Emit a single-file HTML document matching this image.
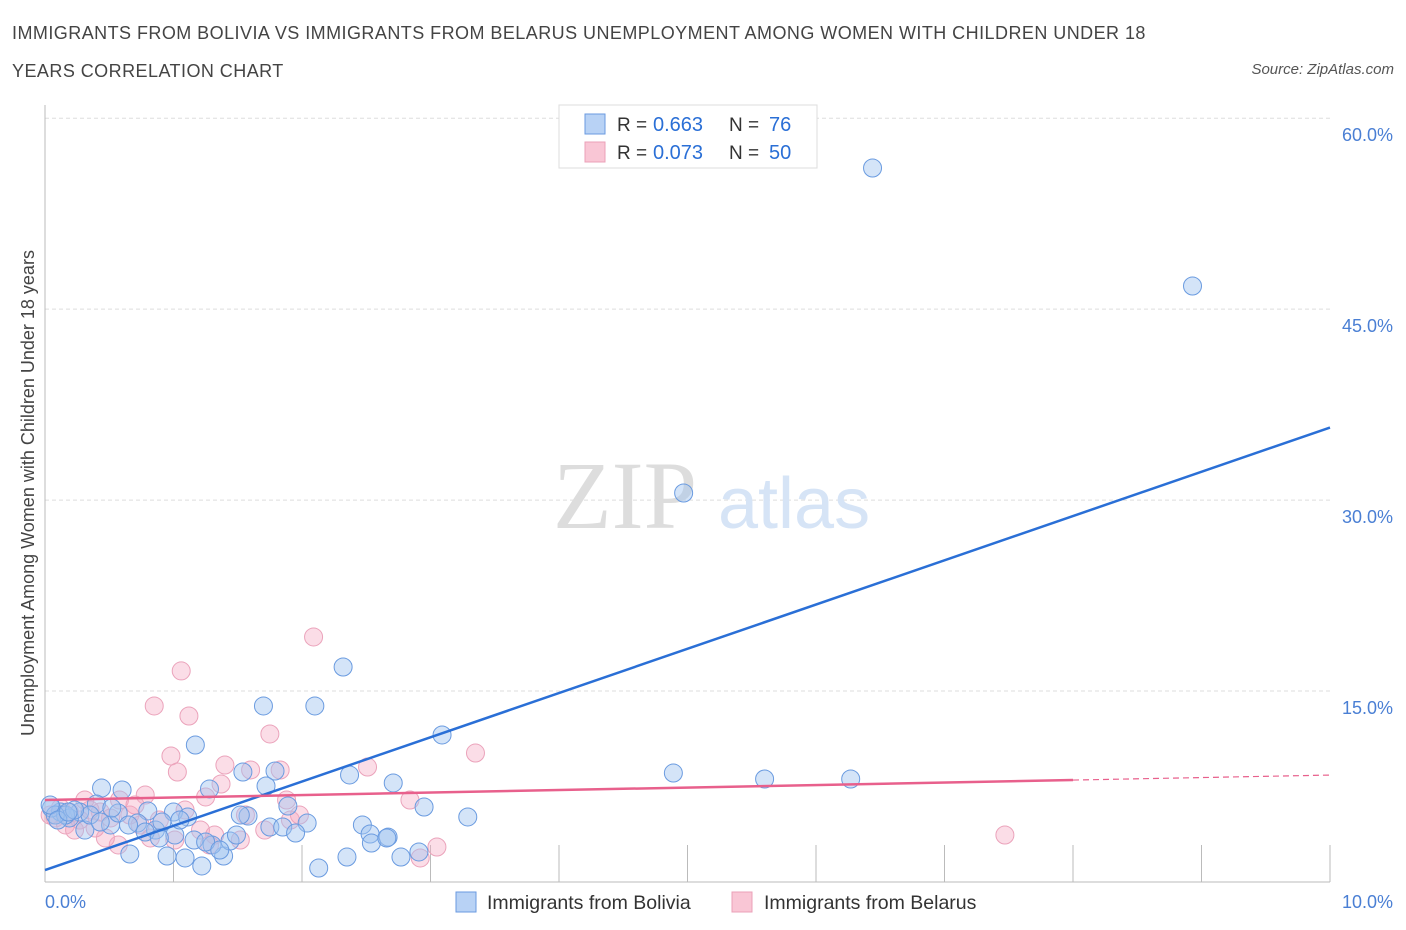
<!DOCTYPE html>
<html><head><meta charset="utf-8"><style>
body{margin:0;background:#fff;font-family:"Liberation Sans",sans-serif;}
#wrap{position:relative;width:1406px;height:930px;overflow:hidden;}
.t{position:absolute;white-space:nowrap;}
</style></head><body>
<div id="wrap">
<div class="t" style="left:12px;top:14px;font-size:18px;color:#444;line-height:38px;letter-spacing:0.45px">IMMIGRANTS FROM BOLIVIA VS IMMIGRANTS FROM BELARUS UNEMPLOYMENT AMONG WOMEN WITH CHILDREN UNDER 18<br>YEARS CORRELATION CHART</div>
<div class="t" style="right:12px;top:61px;font-size:15px;color:#555;font-style:italic">Source: ZipAtlas.com</div>
<svg id="svg" width="1406" height="930" style="position:absolute;left:0;top:0"></svg>
</div>
<script>
const xTickLabels=["0.0%","10.0%"];
const yTicks=[15,30,45,60];
const yTickLabels=["15.0%","30.0%","45.0%","60.0%"];
const legendR=["0.663","0.073"];
const legendN=["76","50"];
const seriesNames=["Immigrants from Bolivia","Immigrants from Belarus"];
const boliviaX=[6.44,8.93,4.97,2.32,1.70,2.10,1.17,3.09,4.89,5.60,6.27,0.44,0.60,1.54,1.79,1.72,1.28,2.37,2.71,2.95,3.29,0.80,1.00,1.11,1.58,1.89,2.04,1.75,1.85,1.95,2.47,2.53,2.67,2.54,2.66,0.66,0.95,1.09,1.22,1.39,1.30,1.44,1.49,2.13,2.35,2.77,2.91,0.40,0.27,0.12,0.05,0.19,0.31,0.51,0.72,0.86,1.01,1.16,0.16,0.08,0.35,0.43,0.57,0.65,0.78,0.91,1.05,1.25,1.36,1.52,0.04,0.23,0.10,0.18,0.52,0.89];
const boliviaY=[56.09,46.82,30.56,16.89,13.83,13.83,10.76,11.55,8.56,8.09,8.09,7.38,7.23,8.64,8.72,7.54,7.31,8.41,7.78,5.89,5.11,5.58,5.50,5.11,5.18,5.97,4.63,4.32,4.32,3.85,4.48,3.77,3.53,3.06,3.46,2.20,2.04,1.89,1.26,2.04,2.91,3.22,3.69,1.10,1.96,1.96,2.36,6.13,5.50,5.50,5.81,5.03,4.08,4.48,4.63,4.08,3.69,3.30,5.26,5.26,5.26,4.71,5.42,4.48,3.93,4.71,4.87,3.14,2.51,5.26,6.05,5.66,4.87,5.50,5.81,3.46];
const belarusX=[2.09,1.06,0.85,1.12,1.75,0.98,1.03,1.40,1.37,1.60,1.83,2.51,3.35,1.25,1.88,2.84,7.47,3.05,2.92,0.78,0.58,0.43,0.66,0.89,1.21,1.32,1.56,1.71,1.91,0.12,0.19,0.08,0.27,0.35,0.51,0.74,0.82,1.01,0.57,0.47,0.16,0.04,0.31,0.39,0.70,1.09,1.28,1.52,1.98,0.23];
const belarusY=[19.25,16.58,13.83,13.04,11.63,9.90,8.64,9.19,7.70,8.80,8.80,9.03,10.13,6.68,6.44,6.44,3.69,2.75,1.89,6.83,6.44,5.50,5.26,4.87,4.08,3.69,5.26,4.08,4.87,5.81,5.50,5.03,4.87,5.66,5.03,4.48,3.46,3.30,2.91,3.46,4.48,5.26,6.44,4.24,6.05,5.66,2.91,3.30,5.26,4.08];
const boliviaTrend=[0.94,35.7];
const belarusTrend=[6.44,8.4];
const belarusSolidEnd=8.0;

const NS="http://www.w3.org/2000/svg";
const svg=document.getElementById('svg');
const X=v=>45+v*128.5;
const Y=v=>882-v*12.73;
function el(tag,attrs,parent){const e=document.createElementNS(NS,tag);for(const k in attrs)e.setAttribute(k,attrs[k]);(parent||svg).appendChild(e);return e;}
function txt(s,attrs,parent){const e=el('text',attrs,parent);e.textContent=s;return e;}

yTicks.forEach((v,i)=>{
 const g=el('line',{x1:45,x2:1330,y1:Y(v),y2:Y(v),stroke:'#ddd','stroke-dasharray':'4,3'});
 
 
 const t=txt(yTickLabels[i],{x:1393,y:Y(v)+23,'text-anchor':'end','font-size':18,fill:'#4a7fd4'});
 
 
});
const ax=el('line',{x1:45,x2:45,y1:105,y2:882,stroke:'#bbb'});


const bx=el('line',{x1:45,x2:1330,y1:882,y2:882,stroke:'#bbb'});


for(let i=1;i<=10;i++){
 const tk=el('line',{x1:X(i),x2:X(i),y1:845,y2:882,stroke:'#bbb'});
 
 
}
let t0=txt(xTickLabels[0],{x:45,y:908,'font-size':18,fill:'#4a7fd4'});


let t1=txt(xTickLabels[1],{x:1393,y:908,'text-anchor':'end','font-size':18,fill:'#4a7fd4'});


let yt=txt('Unemployment Among Women with Children Under 18 years',{x:0,y:0,'font-size':18,fill:'#444','text-anchor':'middle',transform:'translate(34,493) rotate(-90)'});


let w1=txt('ZIP',{x:553,y:528,'font-size':96,fill:'#ddd','font-family':'Liberation Serif'});


let w2=txt('atlas',{x:718,y:528,'font-size':72,fill:'#d6e4f6'});



function dots(xs,ys,fill,stroke,name){
 xs.forEach((x,i)=>{
  const c=el('circle',{cx:X(x),cy:Y(ys[i]),r:9,fill:fill,stroke:stroke,'stroke-width':1});
  
  
 });
}
dots(belarusX,belarusY,'rgba(245,170,195,0.4)','#eba3bb','belarus-point');
dots(boliviaX,boliviaY,'rgba(160,196,240,0.45)','#6a9be0','bolivia-point');

const bl=el('line',{x1:X(0),y1:Y(boliviaTrend[0]),x2:X(10),y2:Y(boliviaTrend[1]),stroke:'#2a6fd6','stroke-width':2.5});


const py=v=>belarusTrend[0]+(belarusTrend[1]-belarusTrend[0])*v/10;
const pl=el('line',{x1:X(0),y1:Y(py(0)),x2:X(belarusSolidEnd),y2:Y(py(belarusSolidEnd)),stroke:'#e8608c','stroke-width':2.5});


const pd=el('line',{x1:X(belarusSolidEnd),y1:Y(py(belarusSolidEnd)),x2:X(10),y2:Y(py(10)),stroke:'#e8608c','stroke-width':1.2,'stroke-dasharray':'6,4'});



const lg=el('rect',{x:559,y:105,width:258,height:63,fill:'#fff',stroke:'#ddd'});


const cols=[['#b8d2f5','#6a9ae0'],['#f9c6d5','#eba0b8']];
[0,1].forEach(i=>{
 const y=114+i*28;
 const s=el('rect',{x:585,y:y,width:20,height:20,fill:cols[i][0],stroke:cols[i][1]});
 
 
 const a=txt('R =',{x:617,y:y+17,'font-size':19,fill:'#333'});
 
 
 const b=txt(legendR[i],{x:653,y:y+17,'font-size':20,fill:'#2a6fd6'});
 
 
 const c=txt('N =',{x:729,y:y+17,'font-size':19,fill:'#333'});
 
 
 const d=txt(legendN[i],{x:769,y:y+17,'font-size':20,fill:'#2a6fd6'});
 
 
 const bs=el('rect',{x:[456,732][i],y:892,width:20,height:20,fill:cols[i][0],stroke:cols[i][1]});
 
 
 const bt=txt(seriesNames[i],{x:[487,764][i],y:909,'font-size':19.5,fill:'#333'});
 
 
});
</script>
</body></html>
